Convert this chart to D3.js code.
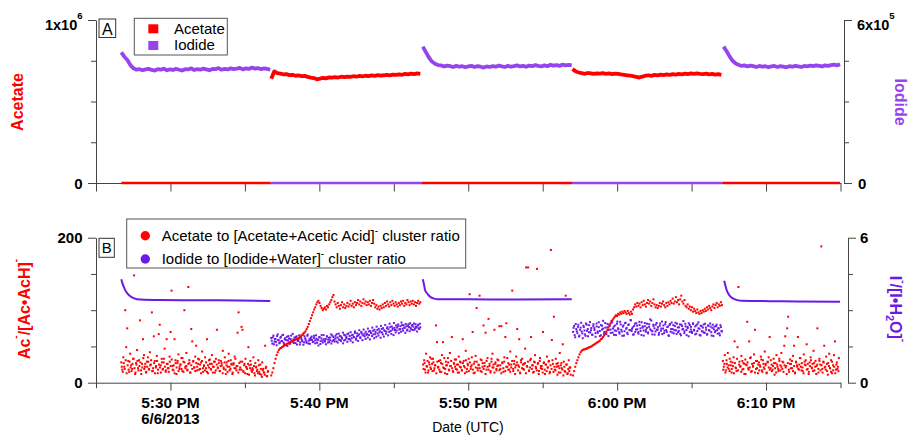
<!DOCTYPE html>
<html>
<head>
<meta charset="utf-8">
<script src="https://cdn.jsdelivr.net/npm/d3@7"></script>
<style>
body { margin: 0; background: #fff; }
svg text { font-family: "Liberation Sans", Arial, sans-serif; }
</style>
</head>
<body>
<svg id="chart" width="909" height="436"></svg>
<script>
// minutes after 17:00 on 6/6/2013
var segIon = ["Iodide", "Acetate", "Iodide", "Acetate", "Iodide"];
var segStart = [26.70, 36.77, 46.95, 57.00, 67.15];
var segEnd = [36.70, 46.78, 56.95, 67.00, 74.97];
var zeroBounds = [26.70, 36.73, 46.87, 56.97, 67.08, 74.97];

// panel A signals, x1e5 counts (acetate on left axis, iodide on right axis)
var topSeg1 = [4.81, 4.65, 4.53, 4.34, 4.22, 4.17, 4.19, 4.15, 4.18, 4.20, 4.16, 4.14, 4.19, 4.17, 4.21, 4.15, 4.18, 4.16, 4.20, 4.17, 4.14, 4.19, 4.18, 4.22, 4.16, 4.19, 4.17, 4.21, 4.18, 4.15, 4.20, 4.19, 4.23, 4.17, 4.20, 4.18, 4.22, 4.19, 4.21, 4.24, 4.18, 4.22, 4.20, 4.25, 4.21, 4.23, 4.19, 4.22, 4.20, 4.17];
var topSeg2 = [6.40, 6.85, 6.74, 6.71, 6.66, 6.68, 6.62, 6.64, 6.58, 6.60, 6.55, 6.57, 6.51, 6.47, 6.44, 6.36, 6.40, 6.45, 6.42, 6.48, 6.46, 6.50, 6.47, 6.52, 6.49, 6.53, 6.51, 6.55, 6.52, 6.57, 6.54, 6.58, 6.56, 6.60, 6.57, 6.62, 6.59, 6.61, 6.64, 6.60, 6.65, 6.63, 6.67, 6.64, 6.69, 6.66, 6.71, 6.68, 6.73, 6.70];
var topSeg3 = [5.02, 4.82, 4.62, 4.47, 4.39, 4.34, 4.33, 4.29, 4.32, 4.30, 4.27, 4.31, 4.28, 4.30, 4.26, 4.29, 4.31, 4.27, 4.30, 4.28, 4.25, 4.29, 4.27, 4.30, 4.28, 4.32, 4.29, 4.27, 4.31, 4.28, 4.30, 4.33, 4.29, 4.31, 4.28, 4.32, 4.30, 4.34, 4.31, 4.29, 4.33, 4.30, 4.35, 4.32, 4.34, 4.31, 4.36, 4.33, 4.35, 4.33];
var topSeg4 = [7.00, 6.85, 6.78, 6.74, 6.70, 6.75, 6.72, 6.69, 6.73, 6.71, 6.74, 6.70, 6.72, 6.68, 6.71, 6.69, 6.66, 6.64, 6.61, 6.58, 6.55, 6.51, 6.47, 6.53, 6.58, 6.61, 6.57, 6.63, 6.60, 6.65, 6.62, 6.66, 6.64, 6.68, 6.65, 6.69, 6.67, 6.71, 6.68, 6.72, 6.69, 6.73, 6.70, 6.68, 6.71, 6.67, 6.69, 6.65, 6.68, 6.64];
var topSeg5 = [5.02, 4.85, 4.66, 4.50, 4.40, 4.35, 4.31, 4.33, 4.29, 4.32, 4.30, 4.27, 4.31, 4.28, 4.30, 4.26, 4.29, 4.31, 4.27, 4.30, 4.28, 4.26, 4.30, 4.28, 4.31, 4.29, 4.27, 4.31, 4.29, 4.32, 4.30, 4.33, 4.31, 4.29, 4.33, 4.31, 4.34, 4.36, 4.33, 4.37];

// panel B: acetate cluster ratio while iodide is measured (scattered, low)
var lowWin = [[26.70, 36.56], [46.97, 56.88], [67.10, 74.89]];
var redLow1 = [28, 18, 35, 22, 100, 49, 75, 30, 15, 40, 24, 19, 33, 148, 12, 27, 45, 20, 31, 86, 17, 26, 60, 38, 22, 14, 29, 35, 19, 42, 25, 97, 16, 64, 30, 21, 37, 13, 67, 80, 24, 33, 18, 28, 47, 15, 60, 26, 20, 36, 70, 127, 23, 17, 60, 31, 12, 27, 39, 19, 25, 34, 16, 29, 100, 22, 41, 18, 132, 27, 14, 74, 57, 30, 21, 36, 51, 17, 26, 32, 19, 28, 43, 15, 24, 35, 20, 60, 13, 31, 26, 18, 38, 22, 29, 14, 33, 73, 21, 27, 16, 30, 24, 44, 19, 35, 12, 28, 22, 40, 17, 31, 25, 14, 27, 36, 20, 23, 69, 97, 18, 29, 77, 73, 15, 26, 33, 21, 12, 49, 24, 30, 17, 20, 35, 13, 27, 22, 18, 31, 15, 25, 11, 28, 19, 14, 51, 22, 9, 16];
var redLow3 = [25, 31, 18, 40, 22, 14, 28, 35, 19, 26, 33, 17, 24, 79, 56, 21, 30, 15, 27, 38, 56, 20, 13, 29, 24, 34, 18, 41, 23, 63, 16, 27, 32, 19, 25, 14, 36, 22, 28, 17, 60, 30, 21, 44, 15, 26, 33, 122, 19, 24, 70, 13, 29, 37, 103, 20, 25, 120, 16, 31, 22, 79, 27, 69, 18, 34, 88, 23, 14, 29, 40, 21, 73, 26, 17, 32, 24, 78, 19, 78, 28, 15, 35, 63, 82, 22, 27, 18, 43, 25, 127, 16, 30, 21, 36, 74, 24, 60, 13, 28, 33, 19, 26, 47, 159, 22, 159, 17, 31, 63, 24, 14, 29, 38, 20, 157, 27, 16, 34, 23, 19, 70, 28, 12, 25, 36, 21, 30, 15, 183, 59, 26, 91, 18, 33, 22, 27, 14, 41, 24, 20, 53, 29, 16, 120, 25, 13, 31, 21, 11];
var redLow5 = [30, 22, 38, 17, 26, 41, 19, 33, 24, 14, 28, 35, 57, 21, 16, 49, 132, 29, 23, 37, 18, 27, 12, 32, 25, 84, 20, 57, 34, 15, 26, 22, 39, 73, 19, 30, 13, 28, 24, 36, 17, 31, 21, 43, 26, 14, 29, 35, 63, 20, 25, 18, 33, 11, 27, 38, 22, 16, 30, 24, 41, 19, 28, 51, 64, 23, 75, 91, 15, 32, 26, 20, 37, 51, 13, 29, 24, 63, 18, 34, 22, 27, 16, 39, 25, 31, 53, 19, 12, 28, 35, 21, 26, 44, 17, 30, 23, 75, 14, 33, 25, 188, 19, 29, 51, 22, 36, 16, 27, 40, 20, 31, 13, 24, 38, 57, 18, 28, 22, 34];
// second sweep of the same periods, interleaved in time (the dense core of the cloud)
var lowWinB = [[26.73, 36.53], [47.00, 56.85], [67.13, 74.86]];
var redLow1b = [22, 15, 27, 19, 31, 13, 24, 18, 29, 21, 16, 26, 33, 20, 14, 25, 30, 17, 23, 28, 12, 21, 34, 19, 26, 15, 22, 29, 18, 24, 31, 16, 20, 27, 13, 23, 30, 18, 25, 21, 14, 28, 19, 33, 22, 17, 26, 20, 15, 29, 23, 32, 18, 24, 13, 27, 21, 30, 16, 22, 25, 19, 34, 15, 28, 20, 23, 17, 26, 31, 14, 24, 19, 29, 21, 16, 27, 22, 33, 18, 25, 13, 30, 20, 23, 17, 28, 15, 24, 21, 32, 19, 26, 14, 22, 29, 17, 25, 20, 31, 16, 23, 27, 13, 21, 28, 18, 24, 15, 30, 22, 19, 26, 12, 25, 20, 33, 17, 23, 14, 27, 21, 18, 29, 16, 24, 13, 22, 19, 26, 11, 20, 25, 15, 18, 23, 10, 21, 16, 13, 24, 12, 19, 8, 17, 14, 11, 20, 9, 15];
var redLow3b = [19, 27, 14, 23, 30, 17, 25, 21, 33, 16, 28, 20, 24, 13, 29, 22, 18, 31, 15, 26, 21, 34, 19, 24, 12, 28, 17, 23, 30, 20, 15, 26, 22, 32, 18, 25, 14, 29, 21, 17, 27, 23, 13, 31, 19, 24, 16, 28, 22, 35, 18, 26, 14, 21, 29, 17, 24, 20, 32, 15, 27, 19, 23, 12, 30, 22, 18, 26, 16, 33, 21, 25, 14, 28, 19, 23, 31, 17, 24, 13, 27, 20, 29, 16, 22, 34, 18, 25, 15, 21, 30, 19, 26, 12, 24, 28, 17, 22, 14, 31, 20, 25, 18, 27, 13, 23, 29, 16, 21, 33, 19, 24, 15, 28, 22, 17, 26, 12, 30, 20, 23, 14, 27, 18, 25, 16, 21, 29, 13, 24, 19, 31, 15, 22, 17, 26, 11, 23, 20, 14, 27, 18, 10, 22, 15, 25, 12, 19, 16, 21];
var redLow5b = [18, 26, 14, 31, 21, 24, 16, 29, 19, 23, 13, 27, 20, 33, 17, 25, 22, 15, 30, 19, 26, 12, 24, 28, 18, 21, 35, 16, 23, 27, 14, 30, 20, 25, 17, 22, 32, 15, 26, 19, 24, 13, 28, 21, 18, 31, 16, 23, 27, 20, 14, 25, 19, 33, 17, 22, 29, 15, 24, 21, 12, 27, 18, 26, 20, 30, 16, 23, 14, 28, 22, 19, 25, 34, 17, 21, 13, 29, 24, 18, 26, 15, 23, 31, 20, 16, 27, 22, 12, 25, 19, 30, 17, 24, 14, 28, 21, 18, 26, 11, 23, 20, 15, 29, 17, 22, 13, 25, 19, 16];

// panel B while acetate is measured: acetate ratio rises, iodide ratio noisy
var riseWin = [[36.77, 46.78], [57.04, 67.04]];
var redRise2 = [10, 14, 20, 27, 33, 38, 42, 45, 47, 48, 49, 50, 51, 52, 53, 54, 54, 55, 56, 57, 57, 58, 59, 60, 60, 61, 62, 63, 65, 66, 68, 69, 71, 74, 77, 81, 85, 89, 93, 97, 101, 104, 108, 111, 113, 110, 106, 103, 100, 102, 104, 101, 106, 104, 108, 111, 114, 118, 121, 112, 108, 104, 110, 106, 102, 107, 111, 104, 108, 103, 106, 110, 105, 108, 113, 106, 109, 104, 111, 107, 110, 114, 108, 112, 106, 110, 115, 109, 112, 107, 111, 108, 113, 106, 110, 114, 109, 104, 107, 102, 105, 101, 106, 103, 108, 104, 110, 106, 112, 108, 105, 111, 107, 113, 109, 106, 111, 108, 105, 110, 107, 112, 109, 113, 106, 110, 108, 114, 111, 107, 112, 109, 113, 108, 111, 106, 110, 113, 109, 111];
var purpBand2 = [1.85, 1.62, 1.95, 1.70, 1.80, 1.55, 2.00, 1.75, 1.66, 1.90, 1.72, 1.98, 1.60, 1.84, 1.76, 1.52, 1.93, 1.68, 1.81, 1.74, 2.02, 1.64, 1.79, 1.88, 1.58, 1.73, 1.96, 1.67, 1.83, 1.71, 1.57, 1.92, 1.78, 1.65, 1.99, 1.74, 1.61, 1.86, 1.77, 1.69, 1.94, 1.63, 1.82, 1.75, 1.54, 1.89, 1.72, 1.97, 1.66, 1.80, 1.73, 1.59, 1.91, 1.78, 1.68, 1.87, 1.62, 1.95, 1.76, 1.70, 1.84, 2.01, 1.66, 1.79, 1.93, 1.72, 1.86, 1.63, 1.98, 1.77, 1.90, 1.69, 2.04, 1.81, 1.74, 1.96, 1.67, 1.88, 2.06, 1.78, 1.92, 1.73, 2.00, 1.85, 2.10, 1.76, 1.95, 2.03, 1.81, 1.98, 1.87, 2.12, 1.79, 2.05, 1.93, 2.15, 1.84, 2.01, 1.90, 2.18, 1.95, 2.08, 1.86, 2.22, 2.00, 1.91, 2.14, 2.03, 2.25, 1.96, 2.10, 2.30, 2.02, 2.19, 1.97, 2.27, 2.08, 2.16, 2.34, 2.05, 2.22, 2.11, 2.38, 2.15, 2.28, 2.06, 2.33, 2.20, 2.42, 2.13, 2.26, 2.36, 2.18, 2.45, 2.24, 2.31, 2.12, 2.40, 2.22, 2.29];
var redRise4 = [10, 16, 22, 27, 31, 35, 39, 42, 44, 45, 46, 46, 47, 47, 48, 49, 49, 50, 51, 52, 53, 54, 55, 56, 57, 58, 60, 61, 63, 65, 67, 70, 73, 76, 79, 82, 85, 87, 89, 91, 93, 92, 95, 94, 97, 95, 98, 96, 99, 97, 95, 99, 96, 94, 98, 95, 101, 104, 108, 105, 110, 106, 109, 104, 111, 107, 113, 108, 105, 110, 114, 109, 112, 106, 110, 115, 108, 104, 107, 103, 106, 110, 105, 109, 112, 107, 104, 110, 106, 111, 108, 113, 110, 116, 109, 112, 118, 111, 114, 108, 115, 120, 112, 109, 114, 106, 104, 108, 102, 105, 100, 104, 98, 102, 99, 96, 101, 97, 95, 99, 96, 100, 98, 102, 99, 104, 101, 106, 103, 100, 105, 108, 103, 107, 110, 104, 108, 106, 111, 107];
var purpBand4 = [2.10, 2.35, 1.88, 2.22, 2.05, 2.40, 1.95, 2.28, 2.12, 1.84, 2.30, 2.00, 2.45, 2.15, 1.92, 2.38, 2.08, 2.26, 1.98, 2.42, 2.18, 1.90, 2.33, 2.06, 2.50, 2.14, 1.96, 2.36, 2.24, 2.02, 2.47, 2.11, 2.29, 1.93, 2.40, 2.20, 2.55, 2.07, 2.32, 2.16, 1.97, 2.44, 2.25, 2.09, 2.52, 2.19, 1.94, 2.37, 2.13, 2.48, 2.27, 2.01, 2.41, 2.17, 2.58, 2.23, 1.99, 2.35, 2.10, 2.46, 2.21, 2.03, 2.39, 2.14, 2.50, 2.28, 1.95, 2.34, 2.19, 2.44, 2.08, 2.31, 2.62, 2.16, 2.00, 2.40, 2.25, 2.12, 2.47, 2.20, 1.98, 2.36, 2.15, 2.53, 2.24, 2.05, 2.42, 2.18, 2.30, 1.96, 2.38, 2.11, 2.49, 2.22, 2.04, 2.35, 2.17, 2.44, 2.09, 2.29, 2.02, 2.40, 2.20, 2.55, 2.13, 2.33, 1.97, 2.26, 2.46, 2.10, 2.31, 2.06, 2.43, 2.19, 2.00, 2.37, 2.14, 2.50, 2.23, 1.95, 2.34, 2.12, 2.41, 2.07, 2.28, 1.99, 2.36, 2.18, 2.45, 2.09, 2.27, 1.93, 2.32, 2.15, 2.40, 2.03, 2.24, 1.96, 2.30, 2.12];
// second sweep of the iodide ratio during acetate periods
var riseWinB = [[36.80, 46.75], [57.07, 67.01]];
var purpBand2b = [1.74, 1.88, 1.59, 1.81, 1.69, 1.93, 1.77, 1.63, 1.86, 1.72, 1.97, 1.66, 1.79, 1.56, 1.90, 1.75, 1.83, 1.61, 1.95, 1.70, 1.78, 1.87, 1.64, 1.92, 1.73, 1.80, 1.58, 1.89, 1.76, 1.99, 1.67, 1.84, 1.71, 1.94, 1.62, 1.82, 1.77, 1.91, 1.68, 1.85, 1.75, 1.96, 1.65, 1.79, 1.88, 1.60, 1.83, 1.74, 1.97, 1.70, 1.81, 1.92, 1.66, 1.86, 1.76, 2.00, 1.72, 1.89, 1.79, 1.94, 1.71, 1.87, 2.03, 1.77, 1.91, 1.82, 2.07, 1.75, 1.96, 1.85, 2.01, 1.80, 1.93, 2.09, 1.84, 1.98, 1.89, 2.12, 1.83, 2.04, 1.95, 2.17, 1.88, 2.06, 1.99, 2.20, 1.92, 2.11, 2.02, 2.24, 1.97, 2.14, 2.07, 2.28, 2.00, 2.19, 2.10, 2.32, 2.04, 2.23, 2.13, 2.35, 2.08, 2.26, 2.17, 2.39, 2.11, 2.30, 2.21, 2.44, 2.14, 2.33, 2.25, 2.47, 2.18, 2.37, 2.28, 2.41, 2.20, 2.34, 2.49, 2.23, 2.38, 2.27, 2.43, 2.16, 2.35, 2.30, 2.46, 2.21, 2.39, 2.32, 2.19, 2.42, 2.28, 2.36, 2.25, 2.44];
var purpBand4b = [2.27, 1.97, 2.43, 2.13, 2.31, 1.91, 2.19, 2.48, 2.04, 2.36, 2.16, 1.94, 2.40, 2.22, 2.09, 2.51, 2.17, 1.99, 2.34, 2.26, 2.05, 2.45, 2.12, 2.30, 1.93, 2.38, 2.20, 2.56, 2.10, 2.28, 2.01, 2.43, 2.18, 2.35, 2.06, 2.49, 2.24, 1.98, 2.37, 2.15, 2.53, 2.21, 2.03, 2.41, 2.12, 2.32, 1.95, 2.46, 2.23, 2.07, 2.39, 2.18, 2.59, 2.14, 2.29, 2.00, 2.44, 2.20, 2.36, 2.09, 2.52, 2.25, 1.97, 2.33, 2.16, 2.47, 2.11, 2.27, 2.04, 2.42, 2.21, 2.57, 2.13, 2.34, 1.99, 2.40, 2.19, 2.30, 2.06, 2.45, 2.24, 2.01, 2.37, 2.15, 2.51, 2.10, 2.32, 1.94, 2.43, 2.22, 2.08, 2.38, 2.17, 2.48, 2.02, 2.29, 2.14, 2.41, 1.96, 2.35, 2.23, 2.05, 2.44, 2.18, 2.31, 1.92, 2.39, 2.20, 2.11, 2.46, 2.16, 2.33, 2.03, 2.42, 2.25, 1.98, 2.36, 2.13, 2.28, 2.07, 2.44, 2.19, 2.01, 2.37, 2.15, 2.32, 1.95, 2.40, 2.21, 2.09, 2.34, 2.17, 2.26, 2.04, 2.38, 2.14];

// panel B iodide ratio while iodide is measured (smooth decay)
var iodT1 = [26.70, 26.77, 26.87, 26.97, 27.10, 27.30, 27.57, 27.97, 29.32, 32.00, 34.68, 36.70];
var iodV1 = [4.28, 4.12, 3.96, 3.82, 3.70, 3.58, 3.49, 3.44, 3.42, 3.41, 3.40, 3.38];
var iodT3 = [46.95, 47.03, 47.10, 47.23, 47.32, 47.50, 47.66, 47.99, 50.00, 53.00, 56.95];
var iodV3 = [4.28, 4.05, 3.84, 3.70, 3.63, 3.53, 3.49, 3.45, 3.45, 3.44, 3.45];
var iodT5 = [67.19, 67.27, 67.35, 67.47, 67.57, 67.74, 67.91, 68.36, 71.00, 74.97];
var iodV5 = [4.22, 4.02, 3.84, 3.68, 3.59, 3.50, 3.45, 3.39, 3.37, 3.35];

var timeTicks = ["5:30 PM", "5:40 PM", "5:50 PM", "6:00 PM", "6:10 PM"];

var RED = "#ff0000", PURP_A = "#9645ec", PURP_B = "#6c1ae6", AX = "#444";
var svg = d3.select("#chart");

var day = new Date(2013, 5, 6, 17, 0, 0);
function tm(m) { return new Date(day.getTime() + m * 60000); }

var x = d3.scaleTime().domain([tm(25), tm(75)]).range([96, 840.5]);
var yAcA = d3.scaleLinear().domain([0, 10]).range([183, 20]);
var yIoA = d3.scaleLinear().domain([0, 6]).range([183, 20]);
var yAcB = d3.scaleLinear().domain([0, 200]).range([382.7, 237.7]);
var yIoB = d3.scaleLinear().domain([0, 6]).range([382.7, 237.7]);

// evenly spaced samples between two times
function sampled(vals, t1, t2) {
    var step = (t2 - t1) / (vals.length - 1);
    return vals.map(function(v, i) { return {t: tm(t1 + i * step), v: v}; });
}

function yAxis(scale, vals, majors, side, x0) {
    var ax = (side == "left" ? d3.axisLeft(scale) : d3.axisRight(scale))
        .tickValues(vals).tickSizeInner(5).tickSizeOuter(0).tickFormat("");
    var g = svg.append("g").attr("transform", "translate(" + x0 + ",0)").call(ax);
    g.select(".domain").attr("stroke", AX);
    g.selectAll(".tick line").attr("stroke", AX)
        .attr("x2", function(d) {
            var len = majors.indexOf(d) >= 0 ? 8 : 5;
            return side == "left" ? -len : len;
        });
}

function xAxis(y0, labelled) {
    var ticks = x.ticks(d3.timeMinute.every(5));
    var g = svg.append("g").attr("transform", "translate(0," + y0 + ")")
        .call(d3.axisBottom(x).tickValues(ticks).tickSizeInner(8).tickSizeOuter(0).tickFormat(""));
    g.select(".domain").attr("stroke", AX);
    g.selectAll(".tick line").attr("stroke", AX)
        .attr("y2", function(d) {
            if (!labelled) return 8.5;
            return d.getMinutes() % 10 == 0 ? 8 : 5.5;
        });
    if (labelled) {
        var fmt = d3.timeFormat("%-I:%M %p");
        ticks.forEach(function(d) {
            var lab = fmt(d);
            if (timeTicks.indexOf(lab) < 0) return;
            svg.append("text").attr("x", x(d)).attr("y", y0 + 25.5)
                .attr("text-anchor", "middle").style("font-weight", "bold").style("font-size", "15.5px")
                .text(lab);
            if (lab == timeTicks[0]) {
                svg.append("text").attr("x", x(d)).attr("y", y0 + 41.5)
                    .attr("text-anchor", "middle").style("font-weight", "bold").style("font-size", "15px")
                    .text(d3.timeFormat("%-m/%-d/%Y")(d));
            }
        });
    }
}

function numLabel(xp, yp, anchor, txt) {
    svg.append("text").attr("x", xp).attr("y", yp).attr("text-anchor", anchor)
        .style("font-weight", "bold").style("font-size", "15px").text(txt);
}

function sciLabel(xp, yp, anchor, base, expo) {
    var t = svg.append("text").attr("x", xp).attr("y", yp).attr("text-anchor", anchor)
        .style("font-weight", "bold").style("font-size", "14.5px");
    t.append("tspan").text(base);
    t.append("tspan").attr("dy", -11).style("font-size", "9.5px").text(expo);
}

function dots(data, ys, color) {
    svg.append("g").selectAll("rect").data(data).enter().append("rect")
        .attr("x", function(d) { return x(d.t) - 1; })
        .attr("y", function(d) { return ys(d.v) - 1; })
        .attr("width", 2).attr("height", 2)
        .attr("fill", color);
}

// ---------- panel A ----------
yAxis(yAcA, [0, 2.5, 5, 7.5, 10], [0, 10], "left", 96);
yAxis(yIoA, [0, 1.5, 3, 4.5, 6], [0, 6], "right", 844);
xAxis(183, false);

var topSeries = [topSeg1, topSeg2, topSeg3, topSeg4, topSeg5];
for (var s = 0; s < topSeries.length; s++) {
    var isAc = segIon[s] == "Acetate";
    var ys = isAc ? yAcA : yIoA;
    var pts = sampled(topSeries[s], segStart[s], segEnd[s]);
    svg.append("path").datum(pts)
        .attr("d", d3.line().x(function(d) { return x(d.t); }).y(function(d) { return ys(d.v); }))
        .attr("fill", "none").attr("stroke", isAc ? RED : PURP_A)
        .attr("stroke-width", 3.8).attr("stroke-linejoin", "round");
    // the ion not being measured sits at zero
    svg.append("line")
        .attr("x1", x(tm(zeroBounds[s]))).attr("x2", x(tm(zeroBounds[s + 1])))
        .attr("y1", (isAc ? yIoA : yAcA)(0)).attr("y2", (isAc ? yIoA : yAcA)(0))
        .attr("stroke", isAc ? PURP_A : RED).attr("stroke-width", 2.4);
}

sciLabel(82.5, 30, "end", "1x10", "6");
numLabel(82.5, 188.5, "end", "0");
sciLabel(857, 29.5, "start", "6x10", "5");
numLabel(858, 188.5, "start", "0");

svg.append("text").attr("transform", "translate(22.5,102) rotate(-90)")
    .attr("text-anchor", "middle").attr("fill", RED)
    .style("font-weight", "bold").style("font-size", "16px").text("Acetate");
svg.append("text").attr("transform", "translate(894.5,102) rotate(90)")
    .attr("text-anchor", "middle").attr("fill", PURP_A)
    .style("font-weight", "bold").style("font-size", "16px").text("Iodide");

// panel letter A
svg.append("rect").attr("x", 99).attr("y", 19).attr("width", 16.7).attr("height", 18.5)
    .attr("fill", "#fff").attr("stroke", "#333");
svg.append("text").attr("x", 107.3).attr("y", 34.5).attr("text-anchor", "middle")
    .style("font-size", "16px").text("A");

// legend A
svg.append("rect").attr("x", 134.3).attr("y", 18.3).attr("width", 93).attr("height", 36.7)
    .attr("fill", "#fff").attr("stroke", "#555");
var legA = [["Acetate", RED], ["Iodide", PURP_A]];
legA.forEach(function(d, i) {
    svg.append("rect").attr("x", 148.3).attr("y", 24.3 + i * 16.7).attr("width", 10).attr("height", 9)
        .attr("fill", d[1]);
    svg.append("text").attr("x", 174).attr("y", 33.5 + i * 16.3).style("font-size", "15px").text(d[0]);
});

// ---------- panel B ----------
yAxis(yAcB, [0, 50, 100, 150, 200], [0, 200], "left", 96);
yAxis(yIoB, [0, 1.5, 3, 4.5, 6], [0, 6], "right", 848);
xAxis(382.7, true);

var lows = [redLow1, redLow3, redLow5];
var lowsB = [redLow1b, redLow3b, redLow5b];
lows.forEach(function(v, i) { dots(sampled(v, lowWin[i][0], lowWin[i][1]), yAcB, RED); });
lowsB.forEach(function(v, i) { dots(sampled(v, lowWinB[i][0], lowWinB[i][1]), yAcB, RED); });
dots(sampled(purpBand2, riseWin[0][0], riseWin[0][1]), yIoB, PURP_B);
dots(sampled(purpBand4, riseWin[1][0], riseWin[1][1]), yIoB, PURP_B);
dots(sampled(purpBand2b, riseWinB[0][0], riseWinB[0][1]), yIoB, PURP_B);
dots(sampled(purpBand4b, riseWinB[1][0], riseWinB[1][1]), yIoB, PURP_B);
dots(sampled(redRise2, riseWin[0][0], riseWin[0][1]), yAcB, RED);
dots(sampled(redRise4, riseWin[1][0], riseWin[1][1]), yAcB, RED);

var smooth = [[iodT1, iodV1], [iodT3, iodV3], [iodT5, iodV5]];
smooth.forEach(function(p) {
    var pts = p[0].map(function(t, i) { return {t: tm(t), v: p[1][i]}; });
    svg.append("path").datum(pts)
        .attr("d", d3.line().curve(d3.curveMonotoneX)
            .x(function(d) { return x(d.t); }).y(function(d) { return yIoB(d.v); }))
        .attr("fill", "none").attr("stroke", PURP_B).attr("stroke-width", 2);
});

numLabel(82.5, 243.3, "end", "200");
numLabel(82.5, 388.3, "end", "0");
numLabel(860, 243.3, "start", "6");
numLabel(860, 388.3, "start", "0");

var tl = svg.append("text").attr("transform", "translate(30,309) rotate(-90)")
    .attr("text-anchor", "middle").attr("fill", RED)
    .style("font-weight", "bold").style("font-size", "16px");
tl.append("tspan").text("Ac");
tl.append("tspan").attr("dy", -11).style("font-size", "10px").text("-");
tl.append("tspan").attr("dy", 11).text("/[Ac\u2022AcH]");
tl.append("tspan").attr("dy", -11).style("font-size", "10px").text("-");

var tr = svg.append("text").attr("transform", "translate(889.5,309) rotate(90)")
    .attr("text-anchor", "middle").attr("fill", PURP_B)
    .style("font-weight", "bold").style("font-size", "16px");
tr.append("tspan").text("I");
tr.append("tspan").attr("dy", -10).style("font-size", "10px").text("-");
tr.append("tspan").attr("dy", 10).text("/[I\u2022H");
tr.append("tspan").attr("dy", 4).style("font-size", "11px").text("2");
tr.append("tspan").attr("dy", -4).text("O]");
tr.append("tspan").attr("dy", -10).style("font-size", "10px").text("-");

// panel letter B
svg.append("rect").attr("x", 99).attr("y", 238.3).attr("width", 15.3).attr("height", 19)
    .attr("fill", "#fff").attr("stroke", "#333");
svg.append("text").attr("x", 106.7).attr("y", 252.7).attr("text-anchor", "middle")
    .style("font-size", "15px").text("B");

// legend B
svg.append("rect").attr("x", 126.7).attr("y", 219).attr("width", 339).attr("height", 49)
    .attr("fill", "#fff").attr("stroke", "#555");
var legB = [["Acetate to [Acetate+Acetic Acid]", RED], ["Iodide to [Iodide+Water]", PURP_B]];
legB.forEach(function(d, i) {
    svg.append("circle").attr("cx", 145.3).attr("cy", 235.7 + i * 23.3).attr("r", 4.7).attr("fill", d[1]);
    var t = svg.append("text").attr("x", 161.7).attr("y", 240.7 + i * 23.3).style("font-size", "15px");
    t.append("tspan").text(d[0]);
    t.append("tspan").attr("dy", -7).style("font-size", "10px").text("-");
    t.append("tspan").attr("dy", 7).text(" cluster ratio");
});

svg.append("text").attr("x", 468).attr("y", 432).attr("text-anchor", "middle")
    .style("font-size", "14px").text("Date (UTC)");
</script>
</body>
</html>
